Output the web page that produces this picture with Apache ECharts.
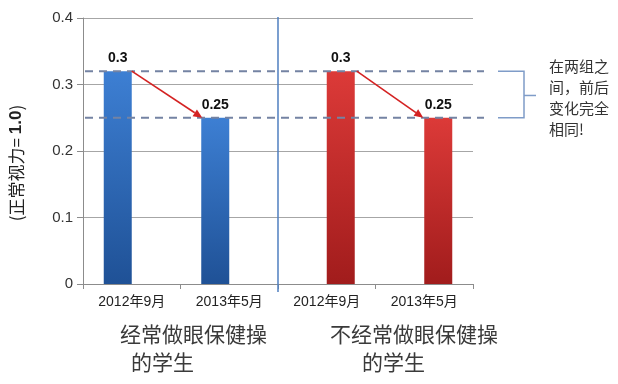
<!DOCTYPE html>
<html><head><meta charset="utf-8">
<script src="https://cdn.jsdelivr.net/npm/echarts@6/dist/echarts.min.js"></script>
<style>html,body{margin:0;padding:0;background:#fff}#c{width:618px;height:384px}</style>
</head><body><div id="c"></div>
<script>
const categories = ['2012年9月', '2013年5月', '2012年9月', '2013年5月'];
const regularValues = [0.32, 0.25, '-', '-'];
const irregularValues = ['-', '-', 0.32, 0.25];
const barLabels = ['0.3', '0.25', '0.3', '0.25'];
const yMin = 0, yMax = 0.4, yStep = 0.1;
const refLevels = [0.32, 0.25];
const groupNames = [['经常做眼保健操', '的学生'], ['不经常做眼保健操', '的学生']];
const noteLines = ['在两组之', '间，前后', '变化完全', '相同!'];

const FONT = '"Liberation Sans", Arial, "Noto Sans CJK SC", sans-serif';
const CJK = '"Noto Sans CJK SC", sans-serif';
const chart = echarts.init(document.getElementById('c'), null, {renderer: 'canvas'});
const BW = 28;

function grad(top, bottom) {
  return new echarts.graphic.LinearGradient(0, 0, 0, 1, [{offset: 0, color: top}, {offset: 1, color: bottom}]);
}

const option = {
  animation: false,
  backgroundColor: '#fff',
  grid: {left: 82, right: 145, top: 18, bottom: 100},
  xAxis: {
    type: 'category', data: categories,
    axisLine: {lineStyle: {color: '#8c8c8c'}},
    axisTick: {show: true, length: 5, lineStyle: {color: '#8c8c8c'}},
    axisLabel: {color: '#222', fontSize: 14, fontFamily: FONT, margin: 11}
  },
  yAxis: {
    type: 'value', min: yMin, max: yMax, interval: yStep,
    name: '{a|(正常视力= }{b|1.0}{a|)}',
    nameLocation: 'middle', nameRotate: 90, nameGap: 58,
    nameTextStyle: {padding: [0, 24, 0, 0], rich: {
      a: {fontSize: 17, fontFamily: CJK, color: '#222'},
      b: {fontSize: 17, fontFamily: FONT, fontWeight: 'bold', color: '#222'}
    }},
    axisLine: {show: true, lineStyle: {color: '#8c8c8c'}},
    axisTick: {show: true, length: 6, lineStyle: {color: '#8c8c8c'}},
    axisLabel: {color: '#333', fontSize: 15, fontFamily: FONT, margin: 10},
    splitLine: {lineStyle: {color: '#a6a6a6'}}
  },
  series: [
    {type: 'bar', data: regularValues, barWidth: BW, barGap: '0%',
     itemStyle: {color: grad('#3d7fd3', '#1f5196')},
     label: {show: true, position: 'top', distance: 6, fontWeight: 'bold', fontSize: 14, fontFamily: FONT, color: '#111',
       formatter: p => barLabels[p.dataIndex]}},
    {type: 'bar', data: irregularValues, barWidth: BW,
     itemStyle: {color: grad('#dc3a38', '#a11c1c')},
     label: {show: true, position: 'top', distance: 6, fontWeight: 'bold', fontSize: 14, fontFamily: FONT, color: '#111',
       formatter: p => barLabels[p.dataIndex]}}
  ]
};
chart.setOption(option);

function arrow(x1, y1, x2, y2, color) {
  const ang = Math.atan2(y2 - y1, x2 - x1);
  const L = 9, W = 4;
  const bx = x2 - L * Math.cos(ang), by = y2 - L * Math.sin(ang);
  const nx = -Math.sin(ang), ny = Math.cos(ang);
  return [
    {type: 'line', shape: {x1, y1, x2: bx, y2: by}, style: {stroke: color, lineWidth: 1.6}, z: 10},
    {type: 'polygon', shape: {points: [[x2, y2], [bx + nx * W, by + ny * W], [bx - nx * W, by - ny * W]]}, style: {fill: color}, z: 10}
  ];
}

const cx = i => chart.convertToPixel({xAxisIndex: 0}, i);
const py = v => chart.convertToPixel({yAxisIndex: 0}, v);
const g = [];
const leftX = cx(0) - (cx(1) - cx(0)) / 2;
const rightX = cx(3) + (cx(1) - cx(0)) / 2;
// separator
const sepX = (cx(1) + cx(2)) / 2;
g.push({type: 'line', shape: {x1: sepX, y1: py(yMax) - 1, x2: sepX, y2: py(0) + 8}, style: {stroke: '#4f7fc0', lineWidth: 1.5}, z: 5});
// dashed reference lines
refLevels.forEach(v => {
  g.push({type: 'line', shape: {x1: leftX + 2, y1: py(v), x2: rightX + 11, y2: py(v)},
    style: {stroke: '#7483a3', lineWidth: 2, lineDash: [8, 6]}, z: 6});
});
// arrows
const redA = '#d42222';
g.push(...arrow(cx(0), py(regularValues[0]), cx(1) - BW + 1, py(regularValues[1]), redA));
g.push(...arrow(cx(2) + BW + 2, py(irregularValues[2]), cx(3) - 1, py(irregularValues[3]), redA));
// bracket
const yT = py(refLevels[0]), yB = py(refLevels[1]);
const bx0 = rightX + 25, bx1 = rightX + 51;
g.push({type: 'polyline', shape: {points: [[bx0, yT], [bx1, yT], [bx1, yB], [bx0, yB]]}, style: {stroke: '#7f9cc8', lineWidth: 1.5, fill: null}, z: 5});
g.push({type: 'line', shape: {x1: bx1, y1: (yT + yB) / 2 + 1, x2: bx1 + 12, y2: (yT + yB) / 2 + 1}, style: {stroke: '#7f9cc8', lineWidth: 1.5}, z: 5});
// note text
noteLines.forEach((t, i) => {
  g.push({type: 'text', x: 549, y: 66 + i * 21, style: {text: t, fontSize: 15, fontFamily: CJK, fill: '#333', verticalAlign: 'middle'}});
});
// group names
const groupPos = [[120, 131], [330, 362]];
groupNames.forEach((lines, gi) => {
  g.push({type: 'text', x: groupPos[gi][0], y: 334, style: {text: lines[0], fontSize: 21, fontFamily: CJK, fill: '#3a3a3a', verticalAlign: 'middle'}});
  g.push({type: 'text', x: groupPos[gi][1], y: 362, style: {text: lines[1], fontSize: 21, fontFamily: CJK, fill: '#3a3a3a', verticalAlign: 'middle'}});
});
chart.setOption({graphic: {elements: g}});
</script>
</body></html>
